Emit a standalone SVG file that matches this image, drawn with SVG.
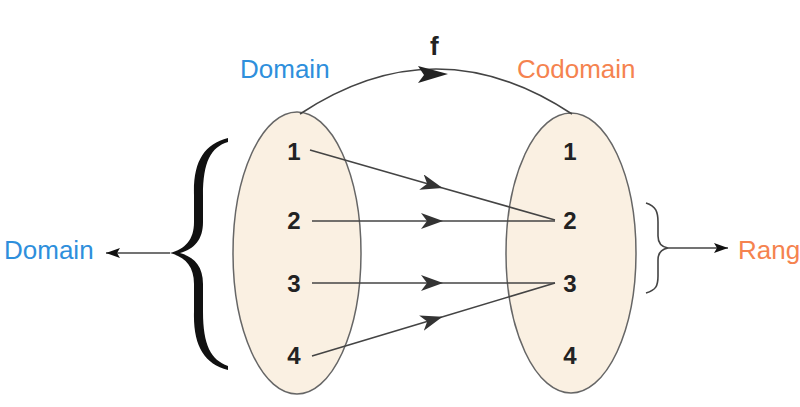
<svg xmlns="http://www.w3.org/2000/svg" width="800" height="407" viewBox="0 0 800 407">
<style>
.set{fill:#faf0e2;stroke:#666;stroke-width:1.5}
.num{font-family:"Liberation Sans",Arial,sans-serif;font-size:24px;font-weight:bold;fill:#222;text-anchor:middle}
.lbl{font-family:"Liberation Sans",Arial,sans-serif;font-size:26px}
.ln{stroke:#444;stroke-width:1.6;fill:none}
.brace{fill:#111}
</style>
<defs>
<marker id="mid" markerWidth="22" markerHeight="16" refX="11" refY="8" orient="auto" markerUnits="userSpaceOnUse">
<path d="M0,0 L22,8 L0,16 L6,8 z" fill="#333"/>
</marker>
<marker id="tip" markerWidth="14" markerHeight="10" refX="14" refY="5" orient="auto" markerUnits="userSpaceOnUse">
<path d="M0,0 L14,5 L0,10 L3,5 z" fill="#111"/>
</marker>
</defs>
<g id="domainSet"><ellipse class="set" cx="297" cy="253" rx="64" ry="141"/>
<text class="num" x="294" y="160">1</text><text class="num" x="294" y="229">2</text><text class="num" x="294" y="292">3</text><text class="num" x="294" y="364">4</text></g>
<g id="codomainSet"><ellipse class="set" cx="571" cy="253" rx="65" ry="140"/>
<text class="num" x="570" y="160">1</text><text class="num" x="570" y="229">2</text><text class="num" x="570" y="292">3</text><text class="num" x="570" y="364">4</text></g>
<g id="labels">
<text class="lbl" x="240" y="78" fill="#2e8fdc">Domain</text>
<text class="lbl" x="517" y="78" fill="#f5834f">Codomain</text>
<text class="lbl" x="430" y="55" font-weight="bold" fill="#222">f</text>
<text class="lbl" x="4" y="259" fill="#2e8fdc">Domain</text>
<text class="lbl" x="738" y="259" fill="#f5834f">Range</text>
</g>
<g id="connectors">
<path class="ln" d="M300,114 Q436,24 572,114"/>
<path d="M418,66 L448,74 L418,83 L424,75 z" fill="#222"/>
<path class="ln" d="M310,150 L432,185 L555,220" marker-mid="url(#mid)"/>
<path class="ln" d="M312,221 L432,221 L555,221" marker-mid="url(#mid)"/>
<path class="ln" d="M312,283 L432,283 L555,283" marker-mid="url(#mid)"/>
<path class="ln" d="M312,356 L432,320 L555,283" marker-mid="url(#mid)"/>
<path class="ln" d="M170,253 L106,253" marker-end="url(#tip)" stroke="#111"/>
<path class="ln" d="M668,248 L728,248" marker-end="url(#tip)" stroke="#111"/>
</g>
<g id="braces">
<path class="brace" d="M228,138 C204,144 193,162 194,195 L194,222 C194,240 185,249 170,253 C185,257 194,266 194,284 L194,312 C193,345 204,364 228,370 L228,366 C211,360 203,345 203,312 L203,284 C203,266 194,257 180,253 C194,249 203,240 203,222 L203,195 C203,162 211,147 228,142 Z"/>
<path class="ln" stroke="#111" stroke-width="2.2" d="M646,203 C656,206 658,212 658,222 L658,236 C658,244 662,247 668,248 C662,249 658,252 658,260 L658,276 C658,286 656,290 646,293"/>
</g>
</svg>
